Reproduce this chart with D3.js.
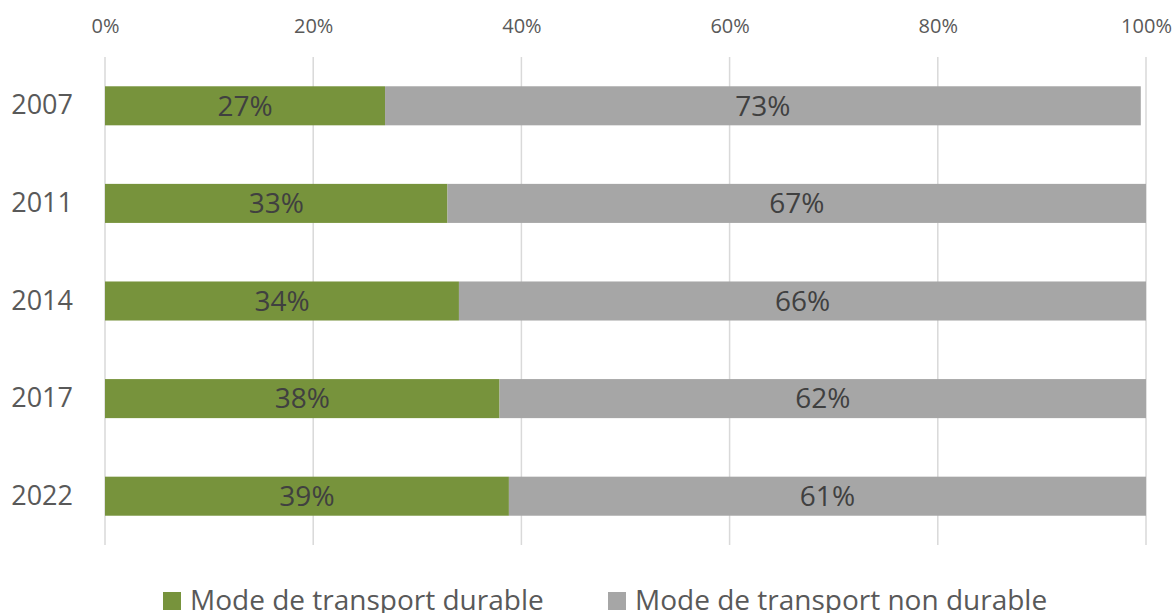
<!DOCTYPE html>
<head>
  <meta charset="utf-8">
  <script src="https://d3js.org/d3.v7.min.js"></script>
  <style>
    body { margin:0; background:#fff; }
    svg { display:block; font-family:"Open Sans", sans-serif; }
  </style>
</head>

<body>
  <script>
    // chart values
    var years = ["2007", "2011", "2014", "2017", "2022"],
        durable = [26.9, 32.9, 34.0, 37.9, 38.8],
        nonDurable = [72.6, 67.1, 66.0, 62.1, 61.2],
        seriesNames = ["Mode de transport durable", "Mode de transport non durable"],
        seriesColors = ["#77933c", "#a6a6a6"],
        tickValues = [0, 20, 40, 60, 80, 100];

    var width = 1176, height = 613;

    var svg = d3.select("body").append("svg")
        .attr("width", width)
        .attr("height", height);

    var x = d3.scaleLinear().domain([0, 100]).range([105, 1146]);
    var y = d3.scaleBand().domain(years).range([57, 545])
        .paddingInner(0.6).paddingOuter(0.3);

    // gridlines
    svg.append("g").selectAll("line").data(tickValues)
      .enter().append("line")
        .attr("x1", function(d){ return x(d); })
        .attr("x2", function(d){ return x(d); })
        .attr("y1", 57)
        .attr("y2", 545)
        .attr("stroke", "#d9d9d9")
        .attr("stroke-width", 1.5);

    // top axis labels
    var xAxis = d3.axisTop(x).tickValues(tickValues)
        .tickFormat(function(d){ return d + "%"; })
        .tickSize(0).tickPadding(0);
    var gx = svg.append("g").attr("transform", "translate(0,33)").call(xAxis);
    gx.select(".domain").remove();
    gx.selectAll("text")
        .attr("dy", 0)
        .attr("fill", "#595959")
        .style("font-size", "20px")
        .style("font-family", "'Open Sans', sans-serif");

    // category labels
    var yAxis = d3.axisLeft(y).tickSize(0).tickPadding(32);
    var gy = svg.append("g").attr("transform", "translate(105,0)").call(yAxis);
    gy.select(".domain").remove();
    gy.selectAll("text")
        .attr("fill", "#595959")
        .style("font-size", "27px")
        .style("font-family", "'Open Sans', sans-serif");

    // stacked bars
    var rows = years.map(function(yr, i){
      return [
        { year: yr, s: 0, x0: 0, x1: durable[i], v: durable[i] },
        { year: yr, s: 1, x0: durable[i], x1: durable[i] + nonDurable[i], v: nonDurable[i] }
      ];
    });
    var segs = d3.merge(rows);

    svg.append("g").selectAll("rect").data(segs)
      .enter().append("rect")
        .attr("x", function(d){ return x(d.x0); })
        .attr("y", function(d){ return y(d.year); })
        .attr("width", function(d){ return x(d.x1) - x(d.x0); })
        .attr("height", y.bandwidth())
        .attr("fill", function(d){ return seriesColors[d.s]; });

    svg.append("g").selectAll("text").data(segs)
      .enter().append("text")
        .attr("x", function(d){ return (x(d.x0) + x(d.x1)) / 2; })
        .attr("y", function(d){ return y(d.year) + y.bandwidth() / 2; })
        .attr("dy", "0.35em")
        .attr("text-anchor", "middle")
        .attr("fill", "#404040")
        .style("font-size", "28px")
        .text(function(d){ return Math.round(d.v) + "%"; });

    // legend (bottom edge clips the text, as in the original)
    var legendX = [163, 608];
    var lg = svg.append("g").selectAll("g").data(seriesNames)
      .enter().append("g")
        .attr("transform", function(d, i){ return "translate(" + legendX[i] + ",592)"; });
    lg.append("rect")
        .attr("width", 18).attr("height", 18)
        .attr("fill", function(d, i){ return seriesColors[i]; });
    lg.append("text")
        .attr("x", 27)
        .attr("y", 18)
        .attr("fill", "#595959")
        .style("font-size", "28px")
        .text(function(d){ return d; });
  </script>
</body>

</html>
